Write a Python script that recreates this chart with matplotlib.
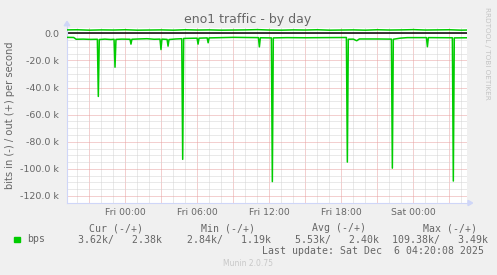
import matplotlib
matplotlib.use("Agg")
import matplotlib.pyplot as plt
from matplotlib.patches import Polygon, Rectangle

# Munin "eno1 traffic - by day", Werte in k bit/s, Zeit in Stunden ab Fri 00:00

# ausgehend (+)
out_hours = [-4.86, -4, -3, -2, -1, 0, 1, 2, 3, 4, 5, 6, 7, 8, 9, 10, 11, 12,
             13, 14, 15, 16, 17, 18, 19, 20, 21, 22, 23, 24, 25, 26, 27, 28, 28.47]
out_vals = [2.5, 2.6, 2.3, 2.5, 2.4, 2.6, 2.3, 2.4, 2.5, 2.3, 2.6, 2.4, 2.5, 2.3,
            2.4, 2.5, 2.7, 2.4, 2.3, 2.5, 2.4, 2.6, 2.3, 2.4, 2.5, 2.3, 2.6, 2.4,
            2.5, 2.7, 2.4, 2.5, 2.6, 2.3, 2.4]

# eingehend (-)
in_hours = [-4.86, -4.3, -4.1, -3.5, -2.9, -2.33, -2.25, -2.17, -1.7, -1.2,
            -0.94, -0.86, -0.78, -0.3, 0.39, 0.47, 0.55, 1.1, 1.8, 2.4,
            2.89, 2.97, 3.05, 3.48, 3.56, 3.64, 4.2, 4.70, 4.78, 4.86,
            5.4, 5.98, 6.06, 6.14, 6.82, 6.90, 6.98, 8.0, 9.0, 10.0,
            11.09, 11.17, 11.25, 12.17, 12.25, 12.33, 13.5, 15.0, 16.5, 18.42,
            18.5, 18.58, 19.0, 19.28, 19.5, 21.0, 22.17, 22.25, 22.33, 22.9,
            23.5, 25.09, 25.17, 25.25, 27.25, 27.33, 27.41, 28.47]
in_vals = [-3.0, -3.1, -4.4, -4.3, -4.5, -4.4, -46.6, -4.6, -4.3, -4.6,
           -4.4, -25.0, -4.5, -4.3, -4.4, -8.0, -4.4, -4.2, -4.0, -4.4,
           -4.3, -12.0, -4.3, -4.5, -9.5, -4.6, -4.2, -4.0, -93.0, -3.8,
           -3.7, -3.6, -8.0, -3.6, -3.4, -7.0, -3.4, -3.2, -3.0, -3.1,
           -3.2, -10.0, -3.3, -3.4, -109.4, -3.4, -3.2, -3.3, -3.2, -3.1,
           -95.0, -4.4, -4.3, -5.5, -4.2, -4.2, -4.3, -99.5, -4.4, -3.6,
           -3.2, -3.2, -9.9, -3.2, -3.3, -109.0, -3.4, -3.3]

x_label_hours = [0, 6, 12, 18, 24]
x_labels = ['Fri 00:00', 'Fri 06:00', 'Fri 12:00', 'Fri 18:00', 'Sat 00:00']
y_tick_vals = [0, -20, -40, -60, -80, -100, -120]
y_labels = ['0.0', '-20.0 k', '-40.0 k', '-60.0 k', '-80.0 k', '-100.0 k', '-120.0 k']

legend_head = ['Cur (-/+)', 'Min (-/+)', 'Avg (-/+)', 'Max (-/+)']
legend_vals = ['3.62k/   2.38k', '2.84k/   1.19k', '5.53k/   2.40k', '109.38k/   3.49k']

W, H = 497, 275
FONT = '#666666'
AXIS = '#CFD6F8'
GREEN = '#00CC00'

def fx(x):
    return x / W

def fy(y):
    return 1 - y / H

fig = plt.figure(figsize=(W / 100, H / 100), dpi=100, facecolor='#F0F0F0')
# Zeichenfläche auf ganze Pixel gelegt, damit die Punktlinien sauber fallen
left, right, top, bottom = 67, 467, 28, 203
ax = fig.add_axes([fx(left), fy(bottom), (right - left) / W, (bottom - top) / H])
ax.set_facecolor('white')
ax.set_xlim(-4.86, 28.47)
ax.set_ylim(-125.2, 3.9)

# Gitter: grau jede Stunde / 5k, rot alle 3 Stunden / 20k
grid_kw = dict(lw=0.72, ls=(0, (1, 1)), zorder=0.5)
for h in range(-4, 29):
    ax.axvline(h, color='#e8a0a0' if h % 3 == 0 else '#d4d4d4', **grid_kw)
for v in range(0, -126, -5):
    ax.axhline(v, color='#e8a0a0' if v % 20 == 0 else '#d4d4d4', **grid_kw)

ax.axhline(0, color='black', lw=1.1, zorder=2)
ax.plot(out_hours, out_vals, color=GREEN, lw=1.1, zorder=3)
ax.plot(in_hours, in_vals, color=GREEN, lw=1.1, zorder=3)

for s in ax.spines.values():
    s.set_visible(False)

ax.set_xticks(x_label_hours)
ax.set_xticklabels(x_labels)
ax.set_yticks(y_tick_vals)
ax.set_yticklabels(y_labels)
ax.tick_params(axis='x', length=0, pad=3.6, labelsize=6.7, labelcolor=FONT)
ax.tick_params(axis='y', length=0, pad=5.5, labelsize=6.8, labelcolor=FONT)

# Achsen mit Pfeilen
ax.plot([0, 0], [0, 1.013], color=AXIS, lw=0.8, transform=ax.transAxes, clip_on=False)
ax.plot([0, 1.0025], [0, 0], color=AXIS, lw=0.8, transform=ax.transAxes, clip_on=False)
ax.add_patch(Polygon([[-0.007, 1.013], [0.007, 1.013], [0, 1.038]], closed=True,
                     color=AXIS, transform=ax.transAxes, clip_on=False))
ax.add_patch(Polygon([[1.0025, -0.015], [1.0025, 0.015], [1.014, 0]], closed=True,
                     color=AXIS, transform=ax.transAxes, clip_on=False))

fig.text(fx(248), fy(19.5), 'eno1 traffic - by day', ha='center', va='center',
         fontsize=9, color=FONT)
fig.text(fx(10.5), fy(115.6), 'bits in (-) / out (+) per second', rotation=90,
         ha='center', va='center', fontsize=7.1, color=FONT)
fig.text(fx(487), fy(53), 'RRDTOOL / TOBI OETIKER', rotation=270, ha='center',
         va='center', fontsize=5.2, color='#c4c4c4')

# Legende
mono = 'DejaVu Sans Mono'
fig.patches.append(Rectangle((fx(14), fy(242.3)), 6 / W, 5.5 / H,
                             transform=fig.transFigure, color=GREEN))
fig.text(fx(26.7), fy(239.5), 'bps', ha='left', va='center', fontsize=7.1,
         family=mono, color=FONT)
for x, t in zip([89.3, 200.7, 312, 422.7], legend_head):
    fig.text(fx(x), fy(228.3), t, ha='left', va='center', fontsize=7.1,
             family=mono, color=FONT)
for x, t in zip([78.3, 186.7, 295, 391.7], legend_vals):
    fig.text(fx(x), fy(239.5), t, ha='left', va='center', fontsize=7.1,
             family=mono, color=FONT)
fig.text(fx(261.7), fy(251.5), 'Last update: Sat Dec  6 04:20:08 2025', ha='left',
         va='center', fontsize=7.1, family=mono, color=FONT)
fig.text(fx(248), fy(264), 'Munin 2.0.75', ha='center', va='center', fontsize=5.5,
         color='#c8c8c8')

fig.savefig('out.png', dpi=100, facecolor=fig.get_facecolor())
